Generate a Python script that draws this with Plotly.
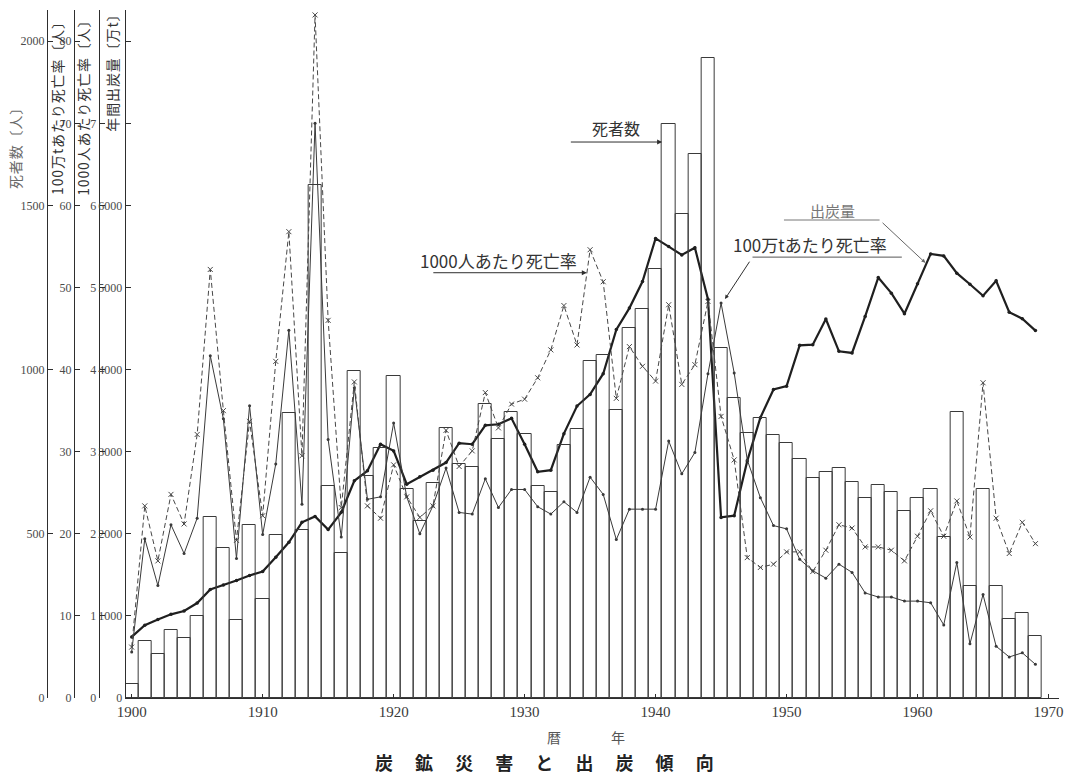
import plotly.graph_objects as go

# ---- data -------------------------------------------------------------
years = list(range(1900, 1970))

# 死者数 [人]
deaths = [
    42, 174, 133, 206, 183, 250, 552, 457, 239, 528,
    300, 497, 868, 513, 1563, 646, 441, 995, 675, 762,
    980, 637, 538, 656, 823, 714, 704, 894, 788, 872,
    805, 646, 628, 771, 820, 1025, 1044, 876, 1127, 1185,
    1306, 1748, 1474, 1656, 1948, 1066, 914, 806, 852, 801,
    775, 729, 670, 689, 700, 658, 608, 648, 626, 570,
    609, 636, 489, 872, 340, 636, 340, 240, 259, 188,
]

# 年間出炭量 [万t]
coal_output = [
    744, 886, 955, 1019, 1060, 1157, 1323, 1375, 1432, 1493,
    1541, 1715, 1897, 2140, 2212, 2051, 2261, 2646, 2767, 3091,
    3010, 2605, 2694, 2775, 2868, 3103, 3091, 3321, 3334, 3406,
    3091, 2755, 2775, 3220, 3556, 3698, 3950, 4487, 4749, 5073,
    5598, 5498, 5397, 5485, 4858, 2200, 2221, 2888, 3414, 3758,
    3798, 4296, 4304, 4616, 4223, 4203, 4648, 5121, 4931, 4681,
    5045, 5409, 5385, 5174, 5040, 4899, 5081, 4700, 4620, 4475,
]

# 100万tあたり死亡率 [人]
rate_per_mt = [
    5.6, 19.4, 13.7, 21.1, 17.6, 21.9, 41.7, 34.0, 17.0, 35.6,
    19.9, 28.5, 44.8, 23.6, 70.0, 31.5, 19.6, 37.8, 24.2, 24.5,
    33.5, 24.5, 20.0, 23.4, 28.0, 22.6, 22.4, 26.7, 23.2, 25.4,
    25.4, 23.3, 22.4, 23.9, 22.6, 26.9, 24.8, 19.3, 23.0, 23.0,
    23.0, 31.3, 27.3, 29.9, 39.5, 48.1, 39.6, 29.0, 24.4, 21.0,
    20.6, 16.9, 15.5, 14.6, 16.3, 15.3, 12.8, 12.3, 12.3, 11.8,
    11.8, 11.6, 8.9, 16.5, 6.6, 12.6, 6.3, 5.0, 5.5, 4.1,
]

# 1000人あたり死亡率 [人]
rate_per_1000 = [
    0.62, 2.34, 1.67, 2.48, 2.12, 3.21, 5.22, 3.50, 1.92, 3.37,
    2.22, 4.10, 5.68, 2.95, 8.32, 4.60, 2.32, 3.85, 2.34, 2.19,
    2.84, 2.45, 2.20, 2.34, 3.26, 2.82, 3.01, 3.72, 3.29, 3.58,
    3.64, 3.90, 4.24, 4.78, 4.30, 5.46, 5.07, 3.65, 4.28, 4.04,
    3.86, 4.79, 3.82, 4.06, 4.83, 3.43, 2.90, 1.71, 1.59, 1.63,
    1.78, 1.78, 1.54, 1.80, 2.11, 2.07, 1.84, 1.84, 1.80, 1.67,
    1.97, 2.28, 1.97, 2.40, 1.96, 3.84, 2.19, 1.76, 2.14, 1.88,
]

# tick labels
death_ticks = [0, 500, 1000, 1500, 2000]
rate_mt_ticks = [0, 10, 20, 30, 40, 50, 60, 70, 80]
rate_1000_ticks = [0, 1, 2, 3, 4, 5, 6, 7]
coal_ticks = [0, 1000, 2000, 3000, 4000, 5000, 6000, 7000, 8000]
coal_tick_text = ["0", "1000", "2000", "3000", "4000", "5000", "6000", "", ""]
decade_ticks = [1900, 1910, 1920, 1930, 1940, 1950, 1960, 1970]

# ---- layout geometry --------------------------------------------------
W, H = 1069, 775
ML, MR, MT, MB = 40, 6, 10, 77
PW = W - ML - MR
PH = H - MT - MB
COAL_TOP = 8380  # all four scales share one grid: 2000人 = 80 = 8 = 8000万t


def fx(px):
    return (px - ML) / PW


def fy(py):
    return (H - MB - py) / PH


def spaced(s):
    # open up the vertical axis titles with hair spaces between glyphs
    return "\u200a".join(s)


INK = "#2e2e2e"
SERIF = "Liberation Serif, DejaVu Serif, serif"
JP = "Noto Sans CJK JP, Liberation Serif, sans-serif"

fig = go.Figure()

# 死者数 (outlined bars)
fig.add_trace(go.Bar(
    x=years, y=deaths, yaxis="y2", width=1.0,
    marker=dict(color="rgba(255,255,255,0)", line=dict(color="#3a3a3a", width=1)),
    showlegend=False,
))

# 1000人あたり死亡率 (dashed, x markers)
fig.add_trace(go.Scatter(
    x=years, y=rate_per_1000, yaxis="y4", mode="lines+markers",
    line=dict(color="#474747", width=1, dash="5px,3px"),
    marker=dict(symbol="x-thin", size=5, line=dict(color="#474747", width=1)),
    showlegend=False,
))

# 100万tあたり死亡率 (thin solid, dots)
fig.add_trace(go.Scatter(
    x=years, y=rate_per_mt, yaxis="y3", mode="lines+markers",
    line=dict(color="#3a3a3a", width=1),
    marker=dict(size=3, color="#3a3a3a"),
    showlegend=False,
))

# 出炭量 (thick solid, dots)
fig.add_trace(go.Scatter(
    x=years, y=coal_output, yaxis="y", mode="lines+markers",
    line=dict(color="#1f1f1f", width=2.2),
    marker=dict(size=3.5, color="#1f1f1f"),
    showlegend=False,
))

left_axis = dict(
    showline=True, linecolor=INK, linewidth=1.1,
    ticks="inside", ticklen=5, tickcolor=INK, tickwidth=1,
    showgrid=False, zeroline=False,
    tickfont=dict(family=SERIF, size=12, color="#4a4a4a"),
)

fig.update_layout(
    width=W, height=H,
    margin=dict(l=ML, r=MR, t=MT, b=MB),
    paper_bgcolor="white", plot_bgcolor="white",
    bargap=0,
    xaxis=dict(
        domain=[fx(126), 1], range=[1899.54, 1970.8],
        tickvals=decade_ticks, ticks="inside", ticklen=4, tickcolor=INK,
        showline=True, linecolor=INK, linewidth=1.3,
        showgrid=False, zeroline=False,
        tickfont=dict(family=SERIF, size=15, color="#3a3a3a"),
    ),
    yaxis=dict(
        range=[0, COAL_TOP], tickvals=coal_ticks, ticktext=coal_tick_text,
        anchor="x", **left_axis,
    ),
    yaxis2=dict(
        range=[0, COAL_TOP / 4], tickvals=death_ticks,
        overlaying="y", anchor="free", position=fx(47), side="left",
        **left_axis,
    ),
    yaxis3=dict(
        range=[0, COAL_TOP / 100], tickvals=rate_mt_ticks,
        overlaying="y", anchor="free", position=fx(74), side="left",
        **left_axis,
    ),
    yaxis4=dict(
        range=[0, COAL_TOP / 1000], tickvals=rate_1000_ticks,
        overlaying="y", anchor="free", position=fx(99), side="left",
        **left_axis,
    ),
)

annotations = []

# vertical axis titles
for text, px, py, color in [
    ("死者数〔人〕", 15, 145, "#6a6a6a"),
    ("100万tあたり死亡率〔人〕", 57, 105, "#333333"),
    ("1000人あたり死亡率〔人〕", 83, 105, "#333333"),
    ("年間出炭量〔万t〕", 112, 70, "#333333"),
]:
    annotations.append(dict(
        text=spaced(text), x=fx(px), y=fy(py), xref="paper", yref="paper",
        textangle=-90, showarrow=False, xanchor="center", yanchor="middle",
        font=dict(family=JP, size=14, color=color),
    ))

# x-axis title and chart title
annotations += [
    dict(text="暦", x=fx(556), y=fy(737), xref="paper", yref="paper",
         xanchor="center", yanchor="middle",
         showarrow=False, font=dict(family=JP, size=14, color="#555555")),
    dict(text="年", x=fx(620), y=fy(737), xref="paper", yref="paper",
         xanchor="center", yanchor="middle",
         showarrow=False, font=dict(family=JP, size=14, color="#555555")),
    dict(text="<b>炭　 鉱　 災　 害　 と　 出　 炭　 傾　 向</b>",
         x=fx(546), y=fy(762), xref="paper", yref="paper",
         xanchor="center", yanchor="middle",
         showarrow=False, font=dict(family=JP, size=18, color="#222222")),
]

# series labels with leader arrows
annotations += [
    dict(text="死者数", x=1937.0, y=1735, xref="x", yref="y2", showarrow=False,
         xanchor="center", yanchor="middle",
         font=dict(family=JP, size=16, color="#333333")),
    dict(text=" ", x=1940.5, y=1693, ax=1933.3, ay=1693, xref="x", yref="y2",
         axref="x", ayref="y2", showarrow=True, arrowhead=2, arrowsize=1,
         arrowwidth=1, arrowcolor=INK, standoff=0),

    dict(text="1000人あたり死亡率", x=1928.0, y=5.33, xref="x", yref="y4",
         xanchor="center", yanchor="middle",
         showarrow=False, font=dict(family=JP, size=17, color="#333333")),
    dict(text=" ", x=1934.75, y=5.18, ax=1922.8, ay=5.18, xref="x", yref="y4",
         axref="x", ayref="y4", showarrow=True, arrowhead=2, arrowsize=1,
         arrowwidth=1, arrowcolor=INK, standoff=0),

    dict(text="出炭量", x=1953.5, y=5944, xref="x", yref="y", showarrow=False,
         xanchor="center", yanchor="middle",
         font=dict(family=JP, size=15, color="#777777")),
    dict(text=" ", x=1960.6, y=5300, ax=1957.1, ay=5822, xref="x", yref="y",
         axref="x", ayref="y", showarrow=True, arrowhead=2, arrowsize=0.8,
         arrowwidth=1, arrowcolor="#666666", standoff=0),

    dict(text="100万tあたり死亡率", x=1951.8, y=55.2, xref="x", yref="y3",
         xanchor="center", yanchor="middle",
         showarrow=False, font=dict(family=JP, size=17, color="#333333")),
    dict(text=" ", x=1945.3, y=48.6, ax=1947.4, ay=53.7, xref="x", yref="y3",
         axref="x", ayref="y3", showarrow=True, arrowhead=2, arrowsize=0.8,
         arrowwidth=1, arrowcolor=INK, standoff=0),
]

fig.update_layout(annotations=annotations)

# underlines beneath the two right-hand labels
fig.add_shape(type="line", xref="x", yref="y", x0=1949.8, x1=1957.1,
              y0=5822, y1=5822, line=dict(color="#777777", width=1))
fig.add_shape(type="line", xref="x", yref="y3", x0=1947.4, x1=1958.8,
              y0=53.7, y1=53.7, line=dict(color="#555555", width=1))

fig.write_html("out.html")
